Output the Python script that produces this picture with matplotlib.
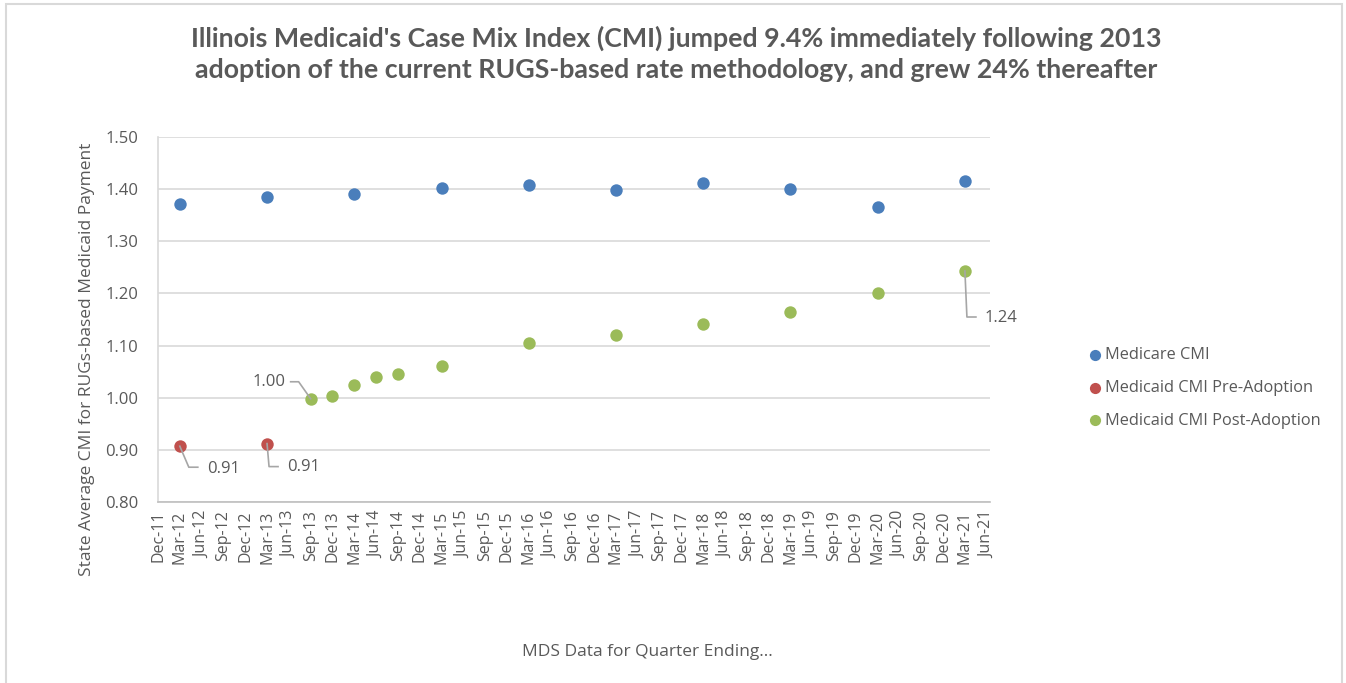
import matplotlib
matplotlib.use("Agg")
import matplotlib.pyplot as plt
from matplotlib.lines import Line2D
from matplotlib.patches import Rectangle

# ---- data ----
quarters = ["Dec-11", "Mar-12", "Jun-12", "Sep-12", "Dec-12", "Mar-13", "Jun-13", "Sep-13",
            "Dec-13", "Mar-14", "Jun-14", "Sep-14", "Dec-14", "Mar-15", "Jun-15", "Sep-15",
            "Dec-15", "Mar-16", "Jun-16", "Sep-16", "Dec-16", "Mar-17", "Jun-17", "Sep-17",
            "Dec-17", "Mar-18", "Jun-18", "Sep-18", "Dec-18", "Mar-19", "Jun-19", "Sep-19",
            "Dec-19", "Mar-20", "Jun-20", "Sep-20", "Dec-20", "Mar-21", "Jun-21"]

medicare_q = ["Mar-12", "Mar-13", "Mar-14", "Mar-15", "Mar-16", "Mar-17", "Mar-18",
              "Mar-19", "Mar-20", "Mar-21"]
medicare_v = [1.372, 1.384, 1.391, 1.402, 1.407, 1.398, 1.411, 1.400, 1.366, 1.416]

pre_q = ["Mar-12", "Mar-13"]
pre_v = [0.907, 0.912]

post_q = ["Sep-13", "Dec-13", "Mar-14", "Jun-14", "Sep-14", "Mar-15", "Mar-16", "Mar-17",
          "Mar-18", "Mar-19", "Mar-20", "Mar-21"]
post_v = [0.998, 1.004, 1.024, 1.040, 1.045, 1.060, 1.104, 1.120, 1.142, 1.165, 1.200, 1.243]

yticks = [0.80, 0.90, 1.00, 1.10, 1.20, 1.30, 1.40, 1.50]

title = ("Illinois Medicaid's Case Mix Index (CMI) jumped 9.4% immediately following 2013\n"
         "adoption of the current RUGS-based rate methodology, and grew 24% thereafter")
ylabel = "State Average CMI for RUGs-based Medicaid Payment"
xlabel = "MDS Data for Quarter Ending..."

# ---- style ----
C_BLUE = "#4A7EBB"
C_RED = "#C0504D"
C_GREEN = "#9BBB59"
TXT = "#595959"
GRID = "#D9D9D9"
FONT = "Open Sans"

W, H = 1346, 683
fig = plt.figure(figsize=(W / 100, H / 100), dpi=100)
fig.patch.set_facecolor("white")
fig.add_artist(Rectangle((6 / W, -0.05), (1342 - 6) / W, 1 - 4 / H + 0.05,
                         transform=fig.transFigure, fill=False,
                         edgecolor="#D9D9D9", linewidth=1.5))

L, R, T, B = 158, 990, 137, 502
ax = fig.add_axes([L / W, 1 - B / H, (R - L) / W, (B - T) / H])

idx = {q: i for i, q in enumerate(quarters)}
ms = 80
ax.scatter([idx[q] for q in medicare_q], medicare_v, s=ms, color=C_BLUE,
           label="Medicare CMI", zorder=3, linewidths=0)
ax.scatter([idx[q] for q in pre_q], pre_v, s=ms, color=C_RED,
           label="Medicaid CMI Pre-Adoption", zorder=3, linewidths=0)
ax.scatter([idx[q] for q in post_q], post_v, s=ms, color=C_GREEN,
           label="Medicaid CMI Post-Adoption", zorder=3, linewidths=0)

ax.set_xlim(0, len(quarters) - 1 + 0.15)
ax.set_ylim(yticks[0], yticks[-1])
ax.set_yticks(yticks)
ax.set_yticklabels([f"{v:.2f}" for v in yticks], fontsize=12, color=TXT, family=FONT)
ax.set_xticks(range(len(quarters)))
ax.set_xticklabels(quarters, rotation=90, fontsize=11.5, color=TXT, family=FONT)
ax.tick_params(axis="both", length=0)
ax.tick_params(axis="y", pad=14)
ax.tick_params(axis="x", pad=6)
ax.grid(axis="y", color=GRID, linewidth=1.2)
ax.set_axisbelow(True)
for s in ["top", "right"]:
    ax.spines[s].set_visible(False)
ax.spines["left"].set_color(GRID)
ax.spines["left"].set_linewidth(1.2)
ax.spines["bottom"].set_color("#BFBFBF")
ax.spines["bottom"].set_linewidth(1.2)

# data labels with leader lines (offsets in pixels, y downward)
def label(q, v, verts, txt, toff, ha="left"):
    px, py = ax.transData.transform((idx[q], v))
    xs = [px + dx for dx, dy in verts]
    ys = [py - dy for dx, dy in verts]
    fig.add_artist(Line2D(xs, ys, transform=None, color="#A6A6A6", linewidth=1.2))
    fig.text((px + toff[0]) / W, (py - toff[1]) / H, txt, ha=ha, va="center",
             fontsize=12, color=TXT, family=FONT)

fig.canvas.draw()
label(pre_q[0], pre_v[0], [(0, 0), (9, 21), (18, 21)], f"{pre_v[0]:.2f}", (27, 23))
label(pre_q[1], pre_v[1], [(0, 0), (2, 23), (11, 23)], f"{pre_v[1]:.2f}", (20, 23))
label(post_q[0], post_v[0], [(0, 0), (-12, -17), (-20, -17)], f"{post_v[0]:.2f}", (-25, -17), ha="right")
label(post_q[-1], post_v[-1], [(0, 0), (2, 46), (11, 46)], f"{post_v[-1]:.2f}", (20, 47))

fig.text(87 / W, 1 - 359 / H, ylabel, rotation=90, ha="center", va="center",
         fontsize=12.5, color=TXT, family=FONT)

fig.text(676 / W, 1 - 54 / H, title, ha="center", va="center", fontsize=19.3,
         fontweight="bold", color=TXT, family="Lato", linespacing=1.38)
fig.text(647 / W, 1 - 652 / H, xlabel, ha="center", va="center", fontsize=12.5,
         color=TXT, family=FONT)

leg = ax.legend(loc="center left", bbox_to_anchor=(1072 / W, 1 - 388 / H),
                bbox_transform=fig.transFigure, frameon=False,
                prop={"family": FONT, "size": 11.8}, labelspacing=1.02,
                handletextpad=0.1, handlelength=1.0, markerscale=0.9)
for t in leg.get_texts():
    t.set_color(TXT)

fig.savefig("out.png", dpi=100, facecolor="white")
